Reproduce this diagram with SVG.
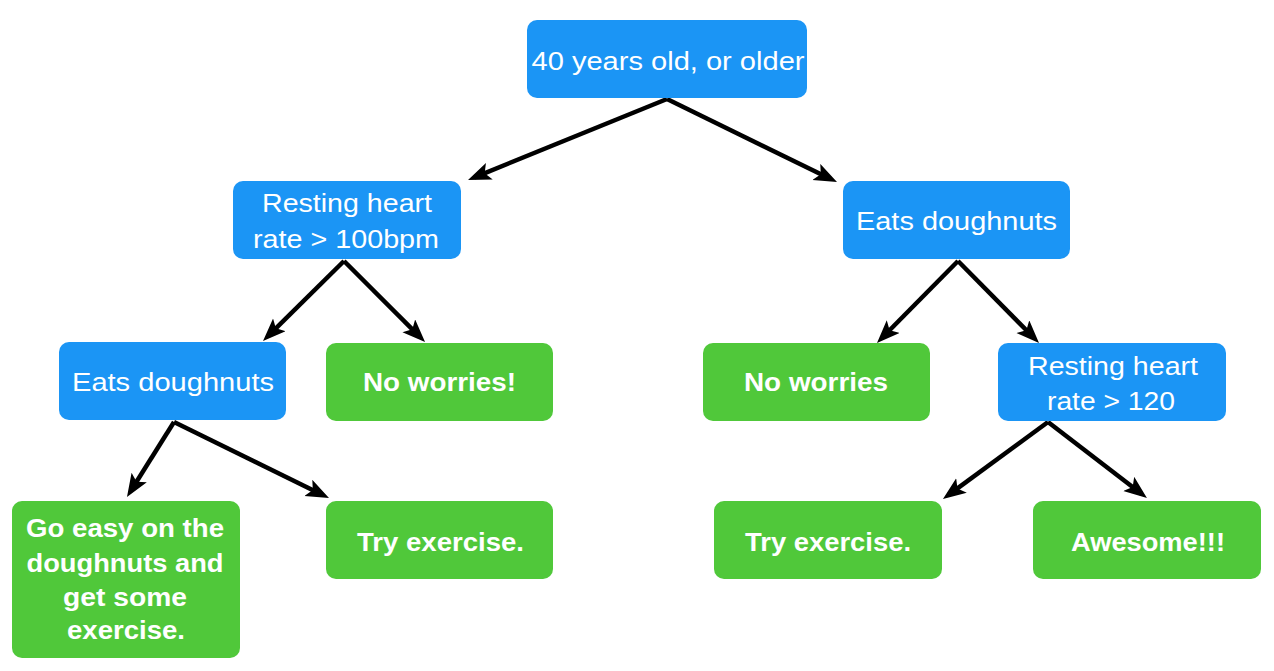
<svg xmlns="http://www.w3.org/2000/svg" width="1274" height="671" viewBox="0 0 1274 671">
<defs>
<style>
.blue{fill:#1b95f5}
.green{fill:#50c83a}
.t{font-family:"Liberation Sans",Arial,Helvetica,sans-serif;fill:#ffffff;text-anchor:middle}
.r{font-size:26px}
.b{font-size:26px;font-weight:bold}
.c{stroke:#000;stroke-width:4.5;fill:none;marker-end:url(#ah)}
</style>
<marker id="ah" markerUnits="userSpaceOnUse" markerWidth="24" markerHeight="20" viewBox="0 0 24 20" refX="16" refY="9" orient="auto">
<path d="M0,0 L23,9 L0,18 L5,9 z" fill="#000"/>
</marker>
</defs>
<rect width="1274" height="671" fill="#ffffff"/>
<g id="connectors">
<line class="c" x1="667" y1="99" x2="474.5" y2="177.3"/>
<line class="c" x1="667" y1="99" x2="830.7" y2="179"/>
<line class="c" x1="344" y1="261" x2="268" y2="336.1"/>
<line class="c" x1="344" y1="261" x2="420.1" y2="337.1"/>
<line class="c" x1="958" y1="261" x2="881.9" y2="338"/>
<line class="c" x1="958" y1="261" x2="1034.1" y2="338"/>
<line class="c" x1="174" y1="422" x2="130.7" y2="491"/>
<line class="c" x1="174" y1="422" x2="322.7" y2="494.9"/>
<line class="c" x1="1048" y1="422" x2="948.6" y2="494.9"/>
<line class="c" x1="1048" y1="422" x2="1141.4" y2="493.7"/>
</g>
<g id="root">
<rect class="blue" x="527" y="20" width="280" height="78" rx="10"/>
<text class="t r" x="668" y="70" textLength="273" lengthAdjust="spacingAndGlyphs">40 years old, or older</text>
</g>
<g id="rhr100">
<rect class="blue" x="233" y="181" width="228" height="78" rx="10"/>
<text class="t r" x="347" y="212" textLength="170" lengthAdjust="spacingAndGlyphs">Resting heart</text>
<text class="t r" x="346" y="248" textLength="186" lengthAdjust="spacingAndGlyphs">rate &gt; 100bpm</text>
</g>
<g id="eats-right">
<rect class="blue" x="843" y="181" width="227" height="78" rx="10"/>
<text class="t r" x="956.5" y="230" textLength="201" lengthAdjust="spacingAndGlyphs">Eats doughnuts</text>
</g>
<g id="eats-left">
<rect class="blue" x="59" y="342" width="227" height="78" rx="10"/>
<text class="t r" x="173" y="391" textLength="202" lengthAdjust="spacingAndGlyphs">Eats doughnuts</text>
</g>
<g id="noworries1">
<rect class="green" x="326" y="343" width="227" height="78" rx="10"/>
<text class="t b" x="439.5" y="391" textLength="153" lengthAdjust="spacingAndGlyphs">No worries!</text>
</g>
<g id="noworries2">
<rect class="green" x="703" y="343" width="227" height="78" rx="10"/>
<text class="t b" x="816" y="391" textLength="144" lengthAdjust="spacingAndGlyphs">No worries</text>
</g>
<g id="rhr120">
<rect class="blue" x="998" y="343" width="228" height="78" rx="10"/>
<text class="t r" x="1113" y="375" textLength="170" lengthAdjust="spacingAndGlyphs">Resting heart</text>
<text class="t r" x="1111" y="410" textLength="128" lengthAdjust="spacingAndGlyphs">rate &gt; 120</text>
</g>
<g id="goeasy">
<rect class="green" x="12" y="501" width="228" height="157" rx="10"/>
<text class="t b" x="125" y="537" textLength="198" lengthAdjust="spacingAndGlyphs">Go easy on the</text>
<text class="t b" x="125" y="572" textLength="197" lengthAdjust="spacingAndGlyphs">doughnuts and</text>
<text class="t b" x="125" y="606" textLength="124" lengthAdjust="spacingAndGlyphs">get some</text>
<text class="t b" x="126" y="639" textLength="118" lengthAdjust="spacingAndGlyphs">exercise.</text>
</g>
<g id="tryex1">
<rect class="green" x="326" y="501" width="227" height="78" rx="10"/>
<text class="t b" x="440.5" y="551" textLength="167" lengthAdjust="spacingAndGlyphs">Try exercise.</text>
</g>
<g id="tryex2">
<rect class="green" x="714" y="501" width="228" height="78" rx="10"/>
<text class="t b" x="828" y="551" textLength="166" lengthAdjust="spacingAndGlyphs">Try exercise.</text>
</g>
<g id="awesome">
<rect class="green" x="1033" y="501" width="228" height="78" rx="10"/>
<text class="t b" x="1148" y="551" textLength="154" lengthAdjust="spacingAndGlyphs">Awesome!!!</text>
</g>
</svg>
